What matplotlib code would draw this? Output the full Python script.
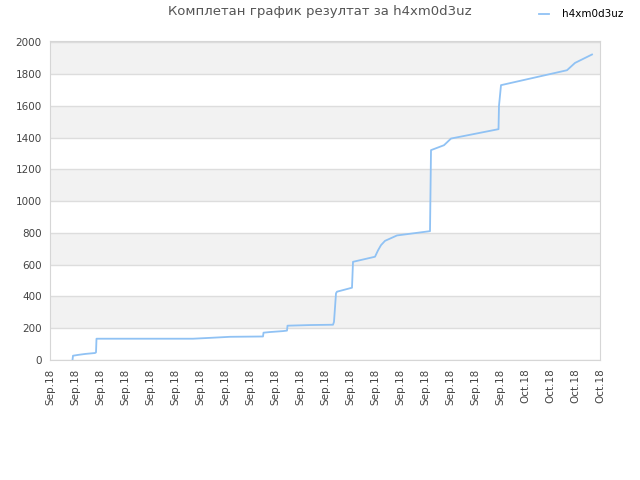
import matplotlib
matplotlib.use("Agg")
import matplotlib.pyplot as plt
import matplotlib.dates as mdates
import pandas as pd

times = [
    "2018-09-12 21:36", "2018-09-12 22:05", "2018-09-13 02:53", "2018-09-13 09:36",
    "2018-09-13 19:12", "2018-09-13 20:10", "2018-09-13 20:38", "2018-09-17 17:17",
    "2018-09-18 11:31", "2018-09-19 04:48", "2018-09-20 12:29", "2018-09-20 12:58",
    "2018-09-20 19:12", "2018-09-21 07:41", "2018-09-21 11:31", "2018-09-21 12:00",
    "2018-09-22 09:36", "2018-09-23 07:41", "2018-09-23 08:38", "2018-09-23 10:34",
    "2018-09-23 11:31", "2018-09-24 01:55", "2018-09-24 02:53", "2018-09-25 00:00",
    "2018-09-25 02:53", "2018-09-25 05:46", "2018-09-25 09:36", "2018-09-25 21:07",
    "2018-09-27 04:48", "2018-09-27 05:46", "2018-09-27 18:14", "2018-09-28 00:58",
    "2018-09-29 22:34", "2018-09-29 23:02", "2018-09-30 00:58", "2018-10-02 16:19",
    "2018-10-03 00:00", "2018-10-03 16:19",
]
scores = [
    0, 27, 32, 38,
    44, 48, 134, 134,
    140, 146, 148, 172,
    176, 182, 185, 216,
    220, 222, 240, 420,
    430, 455, 618, 650,
    690, 723, 750, 784,
    811, 1321, 1352, 1394,
    1453, 1600, 1730, 1824,
    1870, 1923,
]
series_name = "h4xm0d3uz"
title = "Комплетан график резултат за h4xm0d3uz"
y_ticks = list(range(0, 2001, 200))

x = pd.to_datetime(times)

fig = plt.figure(figsize=(6.4, 4.8), dpi=100)
ax = fig.add_axes([50/640, 1 - 360/480, 550/640, (360-41)/480])

# alternating bands
for i, lo in enumerate(range(0, 2000, 200)):
    if i % 2 == 1:
        ax.axhspan(lo, lo + 200, color="#f2f2f2", zorder=0, lw=0)
for t in y_ticks:
    ax.axhline(t, color="#dddddd", lw=1, zorder=1)

ax.plot(x, scores, color="#90c2f4", lw=1.3, zorder=3, label=series_name)

ax.set_xlim(pd.Timestamp("2018-09-12"), pd.Timestamp("2018-10-04"))
ax.set_ylim(0, 2008)
ax.set_yticks(y_ticks)
ax.xaxis.set_major_locator(mdates.DayLocator())
ax.xaxis.set_major_formatter(mdates.DateFormatter("%b.%y"))
ax.tick_params(axis="x", labelrotation=90, labelsize=7.5, colors="#444444", length=0, pad=6)
ax.tick_params(axis="y", labelsize=7.5, colors="#444444", length=0, pad=6)
for s in ax.spines.values():
    s.set_color("#d6d6d6")

fig.text(0.5, 1 - 12/480, title, ha="center", va="center", fontsize=9.5, color="#555555")
leg = fig.legend(loc="upper right", bbox_to_anchor=(0.988, 1.0), frameon=False, fontsize=7.5,
                 handlelength=1.0, handletextpad=1.2)

fig.savefig("out.png", dpi=100)
